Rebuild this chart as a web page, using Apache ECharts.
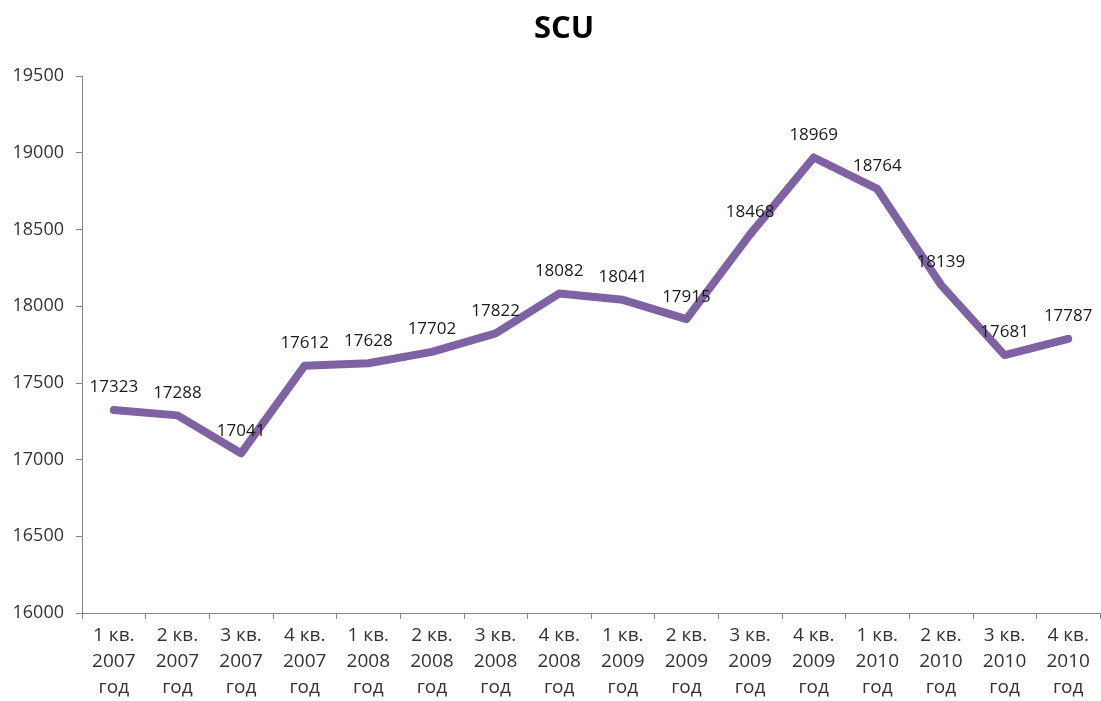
<!DOCTYPE html>
<html>
<head>
<meta charset="utf-8">
<script src="https://cdn.jsdelivr.net/npm/echarts@6/dist/echarts.min.js"></script>
<style>
  html,body{margin:0;padding:0;background:#fff;}
  #container{width:1101px;height:701px;}
</style>
</head>
<body>
<div id="container"></div>
<script>
var quarters = ["1 кв.","2 кв.","3 кв.","4 кв.","1 кв.","2 кв.","3 кв.","4 кв.","1 кв.","2 кв.","3 кв.","4 кв.","1 кв.","2 кв.","3 кв.","4 кв."];
var years = ["2007","2007","2007","2007","2008","2008","2008","2008","2009","2009","2009","2009","2010","2010","2010","2010"];
var scuValues = [17323, 17288, 17041, 17612, 17628, 17702, 17822, 18082, 18041, 17915, 18468, 18969, 18764, 18139, 17681, 17787];

var categories = quarters.map(function(q, i){ return q + "\n" + years[i] + "\nгод"; });

var dom = document.getElementById("container");
var myChart = echarts.init(dom);
var option = {
    backgroundColor: '#fff',
    animation: false,
    title: {
        text: 'SCU',
        left: 529,
        top: 9,
        textStyle: {fontFamily: 'Open Sans', fontSize: 31, fontWeight: 'bold', color: '#000'}
    },
    grid: {left: 82, right: 1, top: 76, bottom: 86},
    xAxis: {
        type: 'category',
        data: categories,
        boundaryGap: true,
        axisLine: {lineStyle: {color: '#868686', width: 1}},
        axisTick: {show: true, length: 6, lineStyle: {color: '#868686'}},
        axisLabel: {
            interval: 0,
            margin: 10,
            fontFamily: 'Open Sans',
            fontSize: 19,
            lineHeight: 26,
            color: '#333'
        }
    },
    yAxis: {
        type: 'value',
        min: 16000,
        max: 19500,
        interval: 500,
        splitLine: {show: false},
        axisLine: {show: true, lineStyle: {color: '#868686', width: 1}},
        axisTick: {show: true, length: 6, lineStyle: {color: '#868686'}},
        axisLabel: {
            margin: 18,
            fontFamily: 'Open Sans',
            fontSize: 18,
            color: '#333',
            formatter: function(v){ return String(v); }
        }
    },
    series: [{
        name: 'SCU',
        type: 'line',
        data: scuValues,
        symbol: 'circle',
        symbolSize: 2,
        showSymbol: true,
        itemStyle: {color: 'rgba(127,98,163,0)'},
        lineStyle: {color: '#7F62A3', width: 8, cap: 'round', join: 'round'},
        label: {
            show: true,
            position: 'top',
            distance: 13,
            fontFamily: 'Open Sans',
            fontSize: 17,
            color: '#1a1a1a'
        }
    }]
};
myChart.setOption(option, true);
</script>
</body>
</html>
